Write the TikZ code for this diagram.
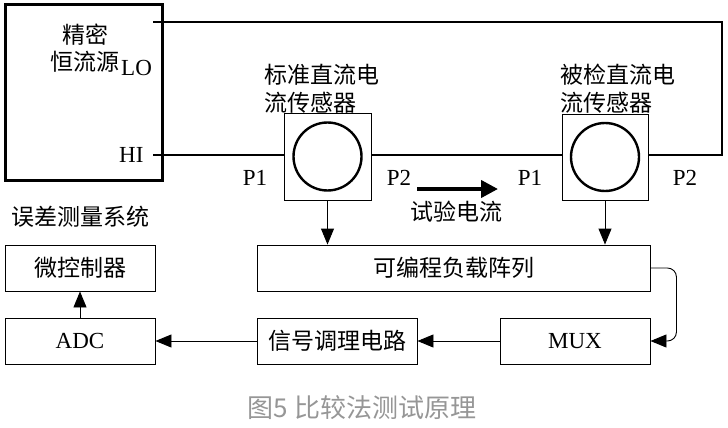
\documentclass[tikz,border=0pt]{standalone}
\usepackage{fontspec}
\setmainfont{Liberation Serif}
\newfontfamily\cjk{Noto Sans CJK SC}
\usetikzlibrary{arrows.meta}
\definecolor{capgray}{RGB}{150,150,150}

\begin{document}
\begin{tikzpicture}[x=1pt,y=-1pt,
    box/.style={draw, line width=0.9pt, inner sep=0pt, minimum height=46pt},
    zh/.style={font=\cjk\fontsize{23}{28}\selectfont, inner sep=0pt},
    en/.style={font=\fontsize{23}{28}\selectfont, inner sep=0pt},
    wire/.style={line width=2.6pt},
    sig/.style={line width=0.9pt, -{Triangle[length=16pt,width=13pt]}}]
  \useasboundingbox (0,0) rectangle (728,428);

  \node[draw, line width=3pt, minimum width=157pt, minimum height=175pt] (src) at (83.5,92.5) {};
  \node[zh] (srcA) at (85,35) {精密};
  \node[zh] (srcB) at (85,62) {恒流源};
  \node[en, anchor=west] (loT) at (121,68) {LO};
  \node[en, anchor=west] (hiT) at (119,155) {HI};
  \coordinate (plo) at (153,22);
  \coordinate (phi) at (153,155);
  \coordinate (rc) at (722,155);

  \node[draw, line width=0.9pt, minimum width=87pt, minimum height=87pt] (sa) at (327.5,156.5) {};
  \node[draw, line width=0.9pt, minimum width=86pt, minimum height=86pt] (sb) at (605,157) {};
  \draw[line width=2.4pt] (sa.center) circle[radius=34pt];
  \draw[line width=2.4pt] (sb.center) circle[radius=34pt];
  \node[zh, anchor=west, align=left] (saT) at (264,89) {标准直流电\\流传感器};
  \node[zh, anchor=west, align=left] (sbT) at (560,89) {被检直流电\\流传感器};

  \draw[wire] (phi) -- (phi -| sa.west);
  \draw[wire] (sa.east |- phi) -- (sb.west |- phi);
  \draw[wire] (plo) -- (plo -| rc) -- (rc) -- (sb.east |- rc);

  \node[en] (pa1) at (255,178) {P1};
  \node[en] (pa2) at (399,178) {P2};
  \node[en] (pb1) at (530,178) {P1};
  \node[en] (pb2) at (685,178) {P2};

  \coordinate (ia) at (417,189);
  \coordinate (ib) at (498,189);
  \draw[line width=4pt, -{Triangle[length=17pt,width=17pt]}] (ia) -- (ib);
  \node[zh] (iT) at (456,212) {试验电流};

  \node[zh] (sysT) at (80,217) {误差测量系统};

  \node[box, zh, minimum width=393pt] (load) at (453.5,268) {可编程负载阵列};
  \node[box, en, minimum width=150pt] (mux) at (575,341) {MUX};
  \node[box, zh, minimum width=160pt] (cond) at (337,341) {信号调理电路};
  \node[box, en, minimum width=150pt] (adc) at (80,341) {ADC};
  \node[box, zh, minimum width=150pt] (mcu) at (80,268) {微控制器};

  \draw[sig] (sa.south) -- (sa.south |- load.north);
  \draw[sig] (sb.south) -- (sb.south |- load.north);
  \draw[sig, rounded corners=9pt] (load.east) -- ++(26,0) |- (mux.east);
  \draw[sig] (mux.west) -- (cond.east);
  \draw[sig] (cond.west) -- (adc.east);
  \draw[sig] (adc.north) -- (mcu.south);

  \node[font=\cjk\fontsize{26}{30}\selectfont, text=capgray] (cap) at (362,408) {图5 比较法测试原理};
\end{tikzpicture}
\end{document}
